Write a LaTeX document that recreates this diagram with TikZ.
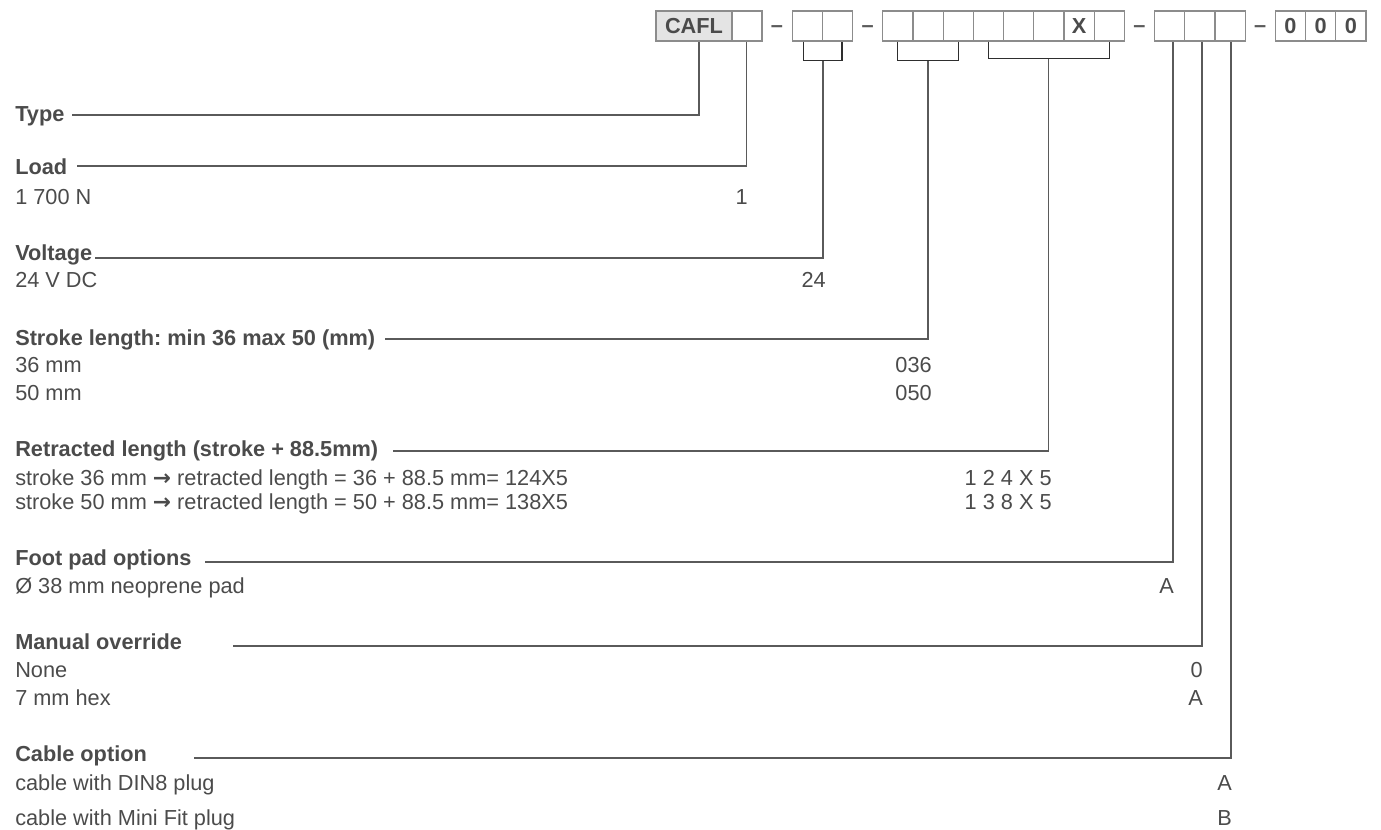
\documentclass[tikz,border=0pt]{standalone}
\usepackage{fontspec}
\setmainfont{Liberation Sans}
\newfontfamily\arrowfont{DejaVu Sans}
\usetikzlibrary{positioning}
\frenchspacing

\definecolor{txtgray}{HTML}{4B4B4B}
\definecolor{linegray}{HTML}{5A5A5A}
\definecolor{boxgray}{HTML}{8C8C8C}
\definecolor{brackgray}{HTML}{2E2E2E}
\definecolor{caflgray}{HTML}{E4E4E4}

\begin{document}
\begin{tikzpicture}[x=0.75pt, y=-0.75pt,
    every node/.style = {font=\fontsize{16.3}{19}\selectfont, text=txtgray, inner sep=0pt},
    codebox/.style = {draw=boxgray, line width=0.9pt, minimum width=22.65pt, minimum height=22.5pt},
    boldtxt/.style = {font=\fontsize{16.3}{19}\selectfont\bfseries},
    headtxt/.style = {anchor=base west, boldtxt},
    opttxt/.style = {anchor=base west},
    codetxt/.style = {anchor=base east},
    leadline/.style = {draw=linegray, line width=0.9pt},
    brackline/.style = {draw=brackgray, line width=0.9pt}]
    \useasboundingbox (0,0) rectangle (1381,829);

    % code boxes
    \node[codebox, boldtxt, fill=caflgray, minimum width=57pt] (cafl) at (694,26) {CAFL};
    \node[codebox] (load) at (746.8,26) {};
    \foreach \i in {1,2,4,5,6,7,8,9,11,13,14,15}
        \node[codebox] (c\i) at ({777+30.2*\i},26) {};
    \node[codebox, boldtxt] (c10) at ({777+30.2*10},26) {X};
    \foreach \i in {17,18,19}
        \node[codebox, boldtxt] (c\i) at ({777+30.2*\i},26) {0};
    \foreach \i in {0,3,12,16}
        \node[boldtxt, text=linegray, anchor=base] (d\i) at ({777+30.2*\i},32.5) {--};

    % brackets
    \draw[brackline] ([xshift=-3pt]c1.south) -- ++(0,19) -| ([xshift=3.5pt]c2.south);
    \draw[brackline] (c4.south) -- ++(0,19) -| (c6.south);
    \draw[brackline] (c7.south) -- ++(0,17) -| (c11.south);

    % headings
    \node[headtxt] (type) at (15,121) {Type};
    \node[headtxt] (loadh) at (15,174) {Load};
    \node[headtxt] (volt) at (15,260) {Voltage};
    \node[headtxt] (stroke) at (15,345) {Stroke length: min 36 max 50 (mm)};
    \node[headtxt] (retr) at (15,456) {Retracted length (stroke + 88.5mm)};
    \node[headtxt] (foot) at (15,565) {Foot pad options};
    \node[headtxt] (manual) at (15,649) {Manual override};
    \node[headtxt] (cable) at (15,761) {Cable option};

    % options
    \node[opttxt] (o1) at (15,204) {1 700 N};
    \node[opttxt] (o2) at (15,287) {24 V DC};
    \node[opttxt] (o3) at (15,372) {36 mm};
    \node[opttxt] (o4) at (15,400) {50 mm};
    \node[opttxt] (o5) at (15,485) {stroke 36 mm {\arrowfont\bfseries→} retracted length = 36 + 88.5 mm= 124X5};
    \node[opttxt] (o6) at (15,509) {stroke 50 mm {\arrowfont\bfseries→} retracted length = 50 + 88.5 mm= 138X5};
    \node[opttxt] (o7) at (15,593) {Ø 38 mm neoprene pad};
    \node[opttxt] (o8) at (15,677) {None};
    \node[opttxt] (o9) at (15,705) {7 mm hex};
    \node[opttxt] (o10) at (15,790) {cable with DIN8 plug};
    \node[opttxt] (o11) at (15,825) {cable with Mini Fit plug};

    % codes
    \node[codetxt] (k1) at (748,204) {1};
    \node[codetxt] (k2) at (826,287) {24};
    \node[codetxt] (k3) at (932,372) {036};
    \node[codetxt] (k4) at (932,400) {050};
    \node[codetxt] (k5) at (1052,485) {1 2 4 X 5};
    \node[codetxt] (k6) at (1052,509) {1 3 8 X 5};
    \node[codetxt] (k7) at (1174,593) {A};
    \node[codetxt] (k8) at (1203,677) {0};
    \node[codetxt] (k9) at (1203,705) {A};
    \node[codetxt] (k10) at (1232,790) {A};
    \node[codetxt] (k11) at (1232,825) {B};

    % leaders
    \coordinate (typeL) at (72,115);
    \coordinate (loadL) at (77,166);
    \coordinate (voltL) at (95,258);
    \coordinate (strokeL) at (385,339);
    \coordinate (retrL) at (393,451);
    \coordinate (footL) at (205,562);
    \coordinate (manualL) at (233,646);
    \coordinate (cableL) at (194,758);
    \draw[leadline] (typeL) -| ([xshift=3.75pt]cafl.south);
    \draw[leadline] (loadL) -| (load.south);
    \draw[leadline] (voltL) -| ([yshift=-14.25pt]c1.south east);
    \draw[leadline] (strokeL) -| ([yshift=-14.25pt]c5.south);
    \draw[leadline] (retrL) -| ([yshift=-12.75pt]c9.south);
    \draw[leadline] (footL) -| ([xshift=2.5pt]c13.south);
    \draw[leadline] (manualL) -| ([xshift=1.65pt]c14.south);
    \draw[leadline] (cableL) -| ([xshift=0.75pt]c15.south);
\end{tikzpicture}
\end{document}
